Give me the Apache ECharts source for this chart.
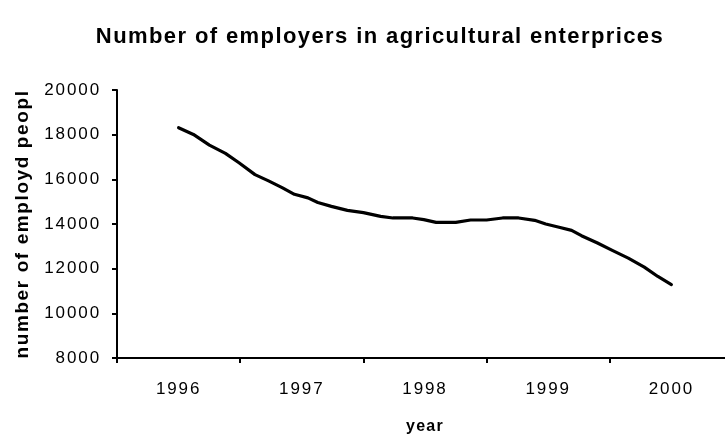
<!DOCTYPE html>
<html>
<head>
<meta charset="utf-8">
<script src="https://cdn.jsdelivr.net/npm/echarts@6/dist/echarts.min.js"></script>
<style>html,body{margin:0;padding:0;background:#fff;}#c{width:725px;height:435px;}</style>
</head>
<body>
<div id="c"></div>
<script>
const categories = ['1996', '1997', '1998', '1999', '2000'];
const yTicks = [8000, 10000, 12000, 14000, 16000, 18000, 20000];
const sampleYears = [1996.00, 1996.12, 1996.25, 1996.38, 1996.49, 1996.62, 1996.73, 1996.84, 1996.94,
  1997.05, 1997.13, 1997.24, 1997.37, 1997.50, 1997.64, 1997.74, 1997.90, 1997.99,
  1998.09, 1998.25, 1998.37, 1998.50, 1998.63, 1998.76, 1998.89, 1998.98,
  1999.08, 1999.19, 1999.27, 1999.40, 1999.52, 1999.65, 1999.78, 1999.89, 2000.00];
const employed = [18310, 18010, 17530, 17160, 16740, 16210, 15930, 15630, 15330,
  15170, 14960, 14790, 14610, 14510, 14340, 14270, 14270, 14195,
  14075, 14075, 14180, 14180, 14270, 14270, 14165, 14000,
  13866, 13716, 13477, 13147, 12818, 12474, 12070, 11650, 11290];

// The reference text is drawn with slightly wide character spacing (GDI-style export);
// reproduce that by giving the canvas a letter spacing per font size.
const spacingBySize = {'17': 1.9, '19': 1.6, '22': 1.4, '16': 1.3};
(function () {
  const proto = CanvasRenderingContext2D.prototype;
  if (!('letterSpacing' in proto)) return;
  const apply = (ctx) => {
    const m = /(\d+(?:\.\d+)?)px/.exec(ctx.font || '');
    const s = m ? (spacingBySize[m[1]] || 0) : 0;
    ctx.letterSpacing = s + 'px';
  };
  const fill = proto.fillText, stroke = proto.strokeText, measure = proto.measureText;
  proto.fillText = function () { apply(this); return fill.apply(this, arguments); };
  proto.strokeText = function () { apply(this); return stroke.apply(this, arguments); };
  proto.measureText = function () { apply(this); return measure.apply(this, arguments); };
})();

const font = 'Liberation Sans, Arial, sans-serif';
const chart = echarts.init(document.getElementById('c'), null, {renderer: 'canvas'});
chart.setOption({
  animation: false,
  backgroundColor: '#ffffff',
  title: {
    text: 'Number of employers in agricultural enterprices',
    left: 375, top: 20, textAlign: 'center',
    textStyle: {fontFamily: font, fontSize: 22, fontWeight: 'bold', color: '#000'}
  },
  grid: {left: 117, right: -8, top: 90, bottom: 77, outerBoundsMode: 'none', containLabel: false},
  xAxis: [{
    type: 'category', data: categories, boundaryGap: true,
    axisLine: {lineStyle: {color: '#000', width: 2}},
    axisTick: {show: true, length: 5, lineStyle: {color: '#000', width: 2}},
    axisLabel: {color: '#000', fontFamily: font, fontSize: 17, margin: 22},
    name: 'year', nameLocation: 'middle', nameGap: 60,
    nameTextStyle: {color: '#000', fontFamily: font, fontSize: 16, fontWeight: 'bold'},
    splitLine: {show: false}
  }, {
    type: 'value', min: 1995.5, max: 2000.5, show: false
  }],
  yAxis: {
    type: 'value', min: yTicks[0], max: yTicks[yTicks.length - 1], interval: 2000,
    axisLine: {show: true, lineStyle: {color: '#000', width: 2}},
    axisTick: {show: true, length: 5, lineStyle: {color: '#000', width: 2}},
    axisLabel: {color: '#000', fontFamily: font, fontSize: 17, margin: 16,
      formatter: (v) => String(v)},
    splitLine: {show: false},
    name: 'number of employd people', nameLocation: 'middle', nameGap: 84, nameRotate: 90,
    nameTruncate: {maxWidth: 277, ellipsis: ''},
    nameTextStyle: {color: '#000', fontFamily: font, fontSize: 19, fontWeight: 'bold',
      width: 277, overflow: 'truncate', ellipsis: ''}
  },
  series: [{
    type: 'line', xAxisIndex: 1,
    data: sampleYears.map((y, i) => [y, employed[i]]),
    showSymbol: false, symbol: 'none',
    lineStyle: {color: '#000', width: 3.2, cap: 'round', join: 'round'}
  }]
});
</script>
</body>
</html>
